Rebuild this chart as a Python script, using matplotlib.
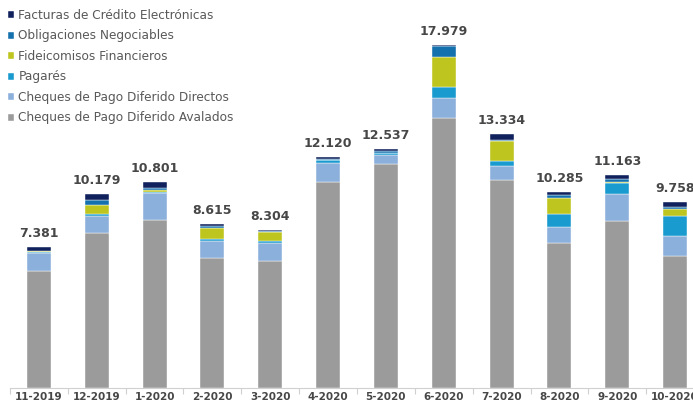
import matplotlib.pyplot as plt
import numpy as np

meses = ['11-2019', '12-2019', '1-2020', '2-2020', '3-2020', '4-2020',
         '5-2020', '6-2020', '7-2020', '8-2020', '9-2020', '10-2020']
totales = ['7.381', '10.179', '10.801', '8.615', '8.304', '12.120',
           '12.537', '17.979', '13.334', '10.285', '11.163', '9.758']

# montos por instrumento (estimados del grafico)
cpd_avalados = [6152, 8110, 8806, 6800, 6679, 10790, 11737, 14130, 10921, 7618, 8773, 6910]
cpd_directos = [900, 900, 1400, 930, 925, 995, 490, 1048, 700, 820, 1415, 1083]
pagares = [52, 110, 90, 70, 90, 140, 85, 612, 280, 664, 560, 1048]
fideicomisos = [52, 480, 60, 570, 470, 20, 0, 1537, 1048, 873, 30, 350]
obligaciones = [35, 230, 130, 105, 50, 70, 85, 612, 70, 120, 175, 105]
facturas = [190, 349, 315, 140, 90, 105, 140, 40, 315, 190, 210, 262]

series = [
    ('Cheques de Pago Diferido Avalados', cpd_avalados, '#9b9b9b'),
    ('Cheques de Pago Diferido Directos', cpd_directos, '#8cb0dc'),
    ('Pagarés', pagares, '#1a9bcf'),
    ('Fideicomisos Financieros', fideicomisos, '#bec51f'),
    ('Obligaciones Negociables', obligaciones, '#1570ae'),
    ('Facturas de Crédito Electrónicas', facturas, '#10215e'),
]

fig = plt.figure(figsize=(6.93, 4.04), dpi=100)
ax = fig.add_axes([10 / 693, 16 / 404, 694 / 693, 388 / 404])

x = np.arange(len(meses))
base = np.zeros(len(meses))
handles = []
for nombre, vals, color in series:
    b = ax.bar(x, vals, width=0.415, bottom=base, color=color, label=nombre,
               edgecolor='white', linewidth=0.3)
    handles.append(b)
    base += np.array(vals)

for xi, tot, txt in zip(x, base, totales):
    ax.annotate(txt, (xi, tot), xytext=(0, 5), textcoords='offset points',
                ha='center', va='bottom', fontsize=9, fontweight='bold',
                color='#474747')

ax.set_xlim(-0.5, len(meses) - 0.5)
ax.set_ylim(0, 20337)
ax.set_xticks(x)
ax.set_xticklabels(meses, fontsize=7.5, fontweight='bold', color='#474747')
ax.set_xticks(np.arange(-0.5, len(meses), 1), minor=True)
ax.tick_params(axis='x', which='major', length=0, pad=3)
ax.tick_params(axis='x', which='minor', length=4, color='#d0d0d0', width=0.8)
ax.set_yticks([])
for s in ['top', 'right', 'left']:
    ax.spines[s].set_visible(False)
ax.spines['bottom'].set_color('#d0d0d0')

leg = ax.legend(handles[::-1], [s[0] for s in series][::-1],
                loc='upper left', bbox_to_anchor=(8 / 693, 1 - 9 / 404),
                bbox_transform=fig.transFigure, frameon=False, fontsize=8.7,
                handlelength=0.5, handleheight=0.5, handletextpad=0.35,
                labelspacing=0.62, borderpad=0, borderaxespad=0)
for t in leg.get_texts():
    t.set_color('#595959')

fig.savefig('out.png', dpi=100)
